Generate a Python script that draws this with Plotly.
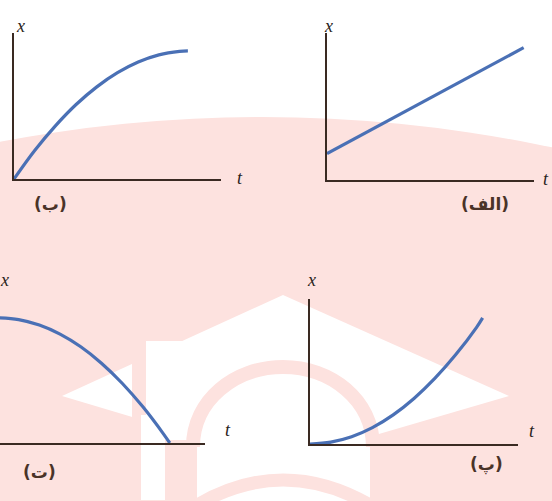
import plotly.graph_objects as go

W, H = 552, 501

# panel (الف): straight line, constant velocity
t_alef = [0, 9.5]
x_alef = [1.8, 9.0]

# panel (ب): concave down, slowing to rest
t_be = [0, 1, 2, 3, 4, 5, 6, 7, 8, 8.4]
x_be = [0, 1.95, 3.64, 5.10, 6.31, 7.28, 8.01, 8.50, 8.74, 8.77]

# panel (پ): concave up from rest
t_pe = [0, 1, 2, 3, 4, 5, 6, 7, 8, 8.3]
x_pe = [0, 0.13, 0.50, 1.13, 2.01, 3.14, 4.52, 6.15, 8.03, 8.7]

# panel (ت): from rest, falling back to zero
t_te = [0, 1, 2, 3, 4, 5, 6, 7, 8, 8.3]
x_te = [8.7, 8.57, 8.19, 7.56, 6.68, 5.54, 4.15, 2.51, 0.62, 0]

panel_labels = ["(الف)", "(ب)", "(پ)", "(ت)"]

BLUE = "#4a70b5"
AXIS = "#3a2a22"
PINK = "#fde2df"
TEXT = "#4a3328"
SERIF = "Liberation Serif, Times New Roman, DejaVu Serif, serif"


def px(x):
    return x / W


def py(y):
    return 1 - y / H


def path(points, close=True):
    s = "M " + " L ".join(f"{px(x):.4f},{py(y):.4f}" for x, y in points)
    return s + (" Z" if close else "")


fig = go.Figure()

series = [
    (t_alef, x_alef, "x", "y"),
    (t_be, x_be, "x2", "y2"),
    (t_pe, x_pe, "x3", "y3"),
    (t_te, x_te, "x4", "y4"),
]
for t, x, xa, ya in series:
    fig.add_trace(go.Scatter(
        x=t, y=x, xaxis=xa, yaxis=ya, mode="lines",
        line=dict(color=BLUE, width=3.2, shape="spline"),
        hoverinfo="skip", showlegend=False,
    ))

# axis frames: (left, bottom, right, top) in pixels
frames = [
    (327, 180, 534, 33),
    (14, 179, 221, 33),
    (310, 444, 518, 299),
    (0, 443, 205, 299),
]
axis_common = dict(showgrid=False, zeroline=False, showticklabels=False,
                   ticks="", showline=True, linecolor=AXIS, linewidth=1.5,
                   fixedrange=True)
layout_axes = {}
for i, (l, b, r, t) in enumerate(frames):
    sx = "" if i == 0 else str(i + 1)
    xr = [0.1, 10] if i == 3 else [0, 10]
    layout_axes["xaxis" + sx] = dict(axis_common, domain=[px(l), px(r)],
                                     range=xr, anchor="y" + sx)
    layout_axes["yaxis" + sx] = dict(axis_common, domain=[py(b), py(t)],
                                     range=[0, 10], anchor="x" + sx,
                                     showline=(i != 3))

fig.update_layout(**layout_axes)

# faint watermark (pink disc with a white graduation cap)
shapes = [
    dict(type="circle", x0=px(-1138), x1=px(1662), y0=py(117), y1=py(2917),
         fillcolor=PINK, line_width=0),
    dict(type="path", path=path([(283, 295), (509, 396), (283, 462), (62, 396)]),
         fillcolor="white", line_width=0),
    dict(type="rect", x0=px(132), x1=px(146), y0=py(355), y1=py(425),
         fillcolor=PINK, line_width=0),
    dict(type="rect", x0=px(146), x1=px(373), y0=py(341), y1=py(440),
         fillcolor="white", line_width=0),
    dict(type="rect", x0=px(197), x1=px(370), y0=py(400), y1=py(501),
         fillcolor="white", line_width=0),
    dict(type="rect", x0=px(141), x1=px(165), y0=py(415), y1=py(500),
         fillcolor="white", line_width=0),
    dict(type="path",
         path=(f"M {px(193):.4f},{py(447):.4f} "
               f"C {px(193):.4f},{py(400):.4f} {px(235):.4f},{py(367):.4f} {px(283):.4f},{py(367):.4f} "
               f"C {px(331):.4f},{py(367):.4f} {px(373):.4f},{py(400):.4f} {px(373):.4f},{py(447):.4f}"),
         line=dict(color=PINK, width=14), fillcolor="rgba(0,0,0,0)"),
    dict(type="path",
         path=(f"M {px(197):.4f},{py(505):.4f} "
               f"Q {px(283):.4f},{py(455):.4f} {px(370):.4f},{py(505):.4f}"),
         line=dict(color=PINK, width=13), fillcolor="rgba(0,0,0,0)"),
]
for s in shapes:
    s.update(xref="paper", yref="paper", layer="below")

annotations = []
# axis names
x_pos = [(328, 14), (14, 14), (311, 280), (-2, 280)]
t_pos = [(551, 179), (240, 178), (537, 443), (228, 442)]
for (ax, ay), (tx, ty) in zip(x_pos, t_pos):
    annotations.append(dict(x=px(ax), y=py(ay), text="<i>x</i>", showarrow=False,
                            xref="paper", yref="paper",
                            font=dict(family=SERIF, size=18, color="#2a2220")))
    annotations.append(dict(x=px(tx), y=py(ty), text="<i>t</i>", showarrow=False,
                            xref="paper", yref="paper",
                            font=dict(family=SERIF, size=18, color="#2a2220")))
# panel tags
tag_pos = [(511, 204), (32, 204), (505, 477), (21, 484)]
for label, (lx, ly) in zip(panel_labels, tag_pos):
    annotations.append(dict(x=px(lx), y=py(ly), text=f"<b>{label}</b>", showarrow=False,
                            xref="paper", yref="paper",
                            font=dict(family="DejaVu Sans", size=17, color=TEXT)))

fig.update_layout(
    width=W, height=H,
    margin=dict(l=0, r=0, t=0, b=0),
    paper_bgcolor="white",
    plot_bgcolor="rgba(0,0,0,0)",
    showlegend=False,
    shapes=shapes,
    annotations=annotations,
)

fig.write_html("out.html", config={"displayModeBar": False},
               post_script="document.body.style.margin = '0px';")
